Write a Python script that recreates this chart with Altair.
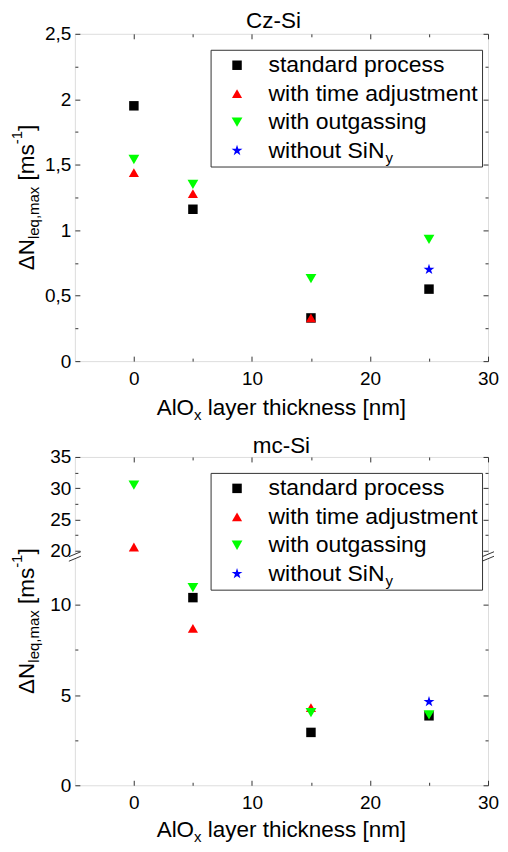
import altair as alt
import pandas as pd

# ---------------- data ----------------
thickness = [0, 5, 15, 25]
series = ["standard process", "with time adjustment", "with outgassing", "without SiN"]

cz_standard = [1.95, 1.16, 0.33, 0.55]
cz_time = [1.44, 1.28, 0.33, None]
cz_outgas = [1.54, 1.35, 0.63, 0.93]
cz_nosin = [None, None, None, 0.70]

mc_standard = [None, 10.4, 2.93, 3.85]
mc_time = [20.6, 8.7, 4.3, None]
mc_outgas = [30.5, 10.95, 4.03, 3.9]
mc_nosin = [None, None, None, 4.63]

x_ticks = [0, 5, 10, 15, 20, 25, 30]
x_labels = [0, 10, 20, 30]
cz_y_ticks = [0, 0.25, 0.5, 0.75, 1, 1.25, 1.5, 1.75, 2, 2.25, 2.5]
cz_y_labels = [0, 0.5, 1, 1.5, 2, 2.5]
mc_y_ticks = [0, 2.5, 5, 7.5, 10, 20, 22.5, 25, 27.5, 30, 32.5, 35]
mc_y_labels = [0, 5, 10, 20, 25, 30, 35]

# ---------------- style ----------------
FONT = "Liberation Sans"
W = 414
FRAME = "#333333"
colors = ["#000000", "#ff0000", "#00ff00", "#0000ff"]
STAR = ("M0,-1L0.2245,-0.309L0.951,-0.309L0.363,0.118L0.588,0.809L0,0.382"
        "L-0.588,0.809L-0.363,0.118L-0.951,-0.309L-0.2245,-0.309Z")
shapes = ["square", "triangle-up", "triangle-down", STAR]
sizes = [90, 130, 130, 130]

CW = {"A": .667, "l": .222, "O": .778, "x": .5, " ": .278, "a": .556, "y": .5,
      "e": .556, "r": .333, "t": .278, "h": .556, "i": .222, "c": .5, "k": .5,
      "n": .556, "s": .5, "[": .278, "]": .278, "m": .833, "Δ": .668, "N": .722,
      "q": .556, ",": .278, "-": .333, "1": .556, "w": .722, "o": .556, "u": .556,
      "S": .667}


def adv(text, size):
    return sum(CW.get(ch, .556) for ch in text) * size


def arr(vals):
    return "[" + ",".join(str(v) for v in vals) + "]"


def label_expr(labels):
    return (f"indexof({arr(labels)}, datum.value) >= 0 ? "
            f"replace('' + datum.value, '.', ',') : ''")


def tick_size(labels):
    return {"expr": f"indexof({arr(labels)}, datum.value) >= 0 ? -5 : -3"}


def text_mark(text, x, y, size, angle=0, dx=0.0, dy=0.0, align="left"):
    return alt.Chart(pd.DataFrame({"t": [text]})).mark_text(
        align=align, baseline="alphabetic", font=FONT, fontSize=size,
        color="black", angle=angle, dx=dx, dy=dy
    ).encode(text="t:N", x=alt.value(x), y=alt.value(y))


LEG_X, LEG_Y = 136, 16


def panel(values, H, y_scale, y_ticks, y_labels, title, title_x, title_y, xt_off, broken):
    rows = []
    for s, vals in zip(series, values):
        for xv, v in zip(thickness, vals):
            if v is not None:
                rows.append({"thickness": xv, "value": v, "series": s})
    df = pd.DataFrame(rows)

    x_scale = alt.Scale(domain=[-5, 30], nice=False, zero=False)
    common_ax = dict(domain=False, grid=False, tickColor=FRAME, tickWidth=1,
                     labelFont=FONT, labelFontSize=19, labelColor="black",
                     labelFlush=False, labelOverlap=False, title=None,
                     minExtent=0, maxExtent=60)

    legend = alt.Legend(orient="none", legendX=LEG_X, legendY=LEG_Y, title=None,
                        strokeColor=FRAME, padding=4,
                        labelFont=FONT, labelFontSize=23, labelColor="black",
                        labelLimit=0, symbolOffset=11, labelOffset=20,
                        rowPadding=4.5, symbolSize=100, symbolStrokeWidth=0)

    main = alt.Chart(df).mark_point(filled=True, opacity=1).encode(
        x=alt.X("thickness:Q", scale=x_scale,
                axis=alt.Axis(orient="bottom", values=x_ticks,
                              labelExpr=label_expr(x_labels),
                              tickSize=tick_size(x_labels), labelPadding=13.5,
                              **common_ax)),
        y=alt.Y("value:Q", scale=y_scale,
                axis=alt.Axis(orient="left", values=y_ticks,
                              labelExpr=label_expr(y_labels),
                              tickSize=tick_size(y_labels), labelPadding=9,
                              **common_ax)),
        color=alt.Color("series:N", scale=alt.Scale(domain=series, range=colors),
                        legend=legend),
        shape=alt.Shape("series:N", scale=alt.Scale(domain=series, range=shapes),
                        legend=legend),
        size=alt.Size("series:N", scale=alt.Scale(domain=series, range=sizes),
                      legend=None),
    )

    mirror = alt.Chart(df).mark_point(opacity=0).encode(
        x=alt.X("thickness:Q", scale=x_scale,
                axis=alt.Axis(orient="top", values=x_ticks, labels=False,
                              tickSize=tick_size(x_labels), **common_ax)),
        y=alt.Y("value:Q", scale=y_scale,
                axis=alt.Axis(orient="right", values=y_ticks, labels=False,
                              tickSize=tick_size(y_labels), **common_ax)),
    )

    layers = [main, mirror]

    # panel title
    layers.append(text_mark(title, title_x, title_y, 22.5, align="center"))

    # x axis title: AlO_x layer thickness [nm]
    xt_y = H + xt_off
    start = -(adv("AlO", 22.5) + adv("x", 15) + adv(" layer thickness [nm]", 22.5)) / 2
    cx = W / 2
    layers.append(text_mark("AlO", cx, xt_y, 22.5, dx=start))
    d = start + adv("AlO", 22.5)
    layers.append(text_mark("x", cx, xt_y, 15, dx=d, dy=4.5))
    d += adv("x", 15) + adv(" ", 22.5)
    layers.append(text_mark("layer thickness [nm]", cx, xt_y, 22.5, dx=d))

    # y axis title: ΔN_leq,max [ms^-1]
    pieces = [("ΔN", 22.5, 0), ("leq,max", 15, 5), (" ", 22.5, 0), ("[ms", 22.5, 0),
              ("-1", 15, -11.5), ("]", 22.5, 0)]
    total = sum(adv(t, s) for t, s, _ in pieces)
    d = -total / 2
    for t, s, off in pieces:
        if t.strip():
            layers.append(text_mark(t, -41, H / 2, s, angle=270, dx=d, dy=off))
        d += adv(t, s)

    # legend subscript for SiN_y
    layers.append(text_mark("y", LEG_X + 59 + adv("without SiN", 23), LEG_Y + 101 + 12, 15))

    if broken:
        for xc in (0, W):
            layers.append(alt.Chart(pd.DataFrame({"k": [0]})).mark_rect(color="white").encode(
                x=alt.value(xc - 2), x2=alt.value(xc + 2),
                y=alt.value(97.5), y2=alt.value(102)))
            for yc in (97.5, 102):
                layers.append(alt.Chart(pd.DataFrame({"k": [0]})).mark_rule(
                    color=FRAME, strokeWidth=1).encode(
                    x=alt.value(xc - 6), x2=alt.value(xc + 6),
                    y=alt.value(yc + 2.5), y2=alt.value(yc - 2.5)))

    return alt.layer(*layers).resolve_axis(x="independent", y="independent").properties(
        width=W, height=H)


top = panel([cz_standard, cz_time, cz_outgas, cz_nosin], 328,
            alt.Scale(domain=[0, 2.5], nice=False, zero=False),
            cz_y_ticks, cz_y_labels, "Cz-Si", 199, -6.3, 54, False)

bottom = panel([mc_standard, mc_time, mc_outgas, mc_nosin], 329,
               alt.Scale(domain=[0, 12.5, 20, 35], range=[329, 103, 94, 0],
                         nice=False, zero=False),
               mc_y_ticks, mc_y_labels, "mc-Si", 207, -4, 52, True)

chart = alt.vconcat(top, bottom, spacing=96, bounds="flush").resolve_scale(
    x="independent", y="independent", color="independent",
    shape="independent", size="independent"
).resolve_legend(color="independent", shape="independent").properties(
    padding={"left": 2, "top": 0, "right": 0, "bottom": 0},
    background="white"
).configure_view(stroke=FRAME, strokeWidth=1, fill="white").configure(font=FONT)

chart.save("out.html", embed_options={"renderer": "svg", "actions": False})
